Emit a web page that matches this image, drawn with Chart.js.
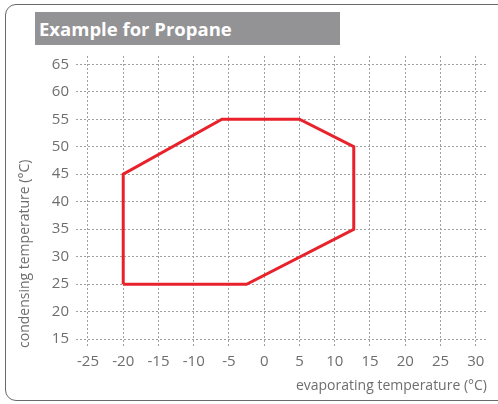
<!DOCTYPE html>
<html>
<head>
<meta charset="utf-8">
<script src="https://cdn.jsdelivr.net/npm/chart.js@4/dist/chart.umd.min.js"></script>
<style>
  html, body { margin: 0; padding: 0; background: #fff; width: 498px; height: 404px; overflow: hidden; }
  #frame { position: absolute; left: 5px; top: 4px; width: 540px; height: 397px; border: 1.5px solid #6a6a6a; border-radius: 11px; box-sizing: border-box; }
  #titlebar { position: absolute; left: 35px; top: 12px; width: 305px; height: 33px; background: #939396; color: #fff;
    font-family: "Open Sans", sans-serif; font-weight: bold; font-size: 18.5px; line-height: 33px; padding-left: 4px; box-sizing: border-box; }
  #c { position: absolute; left: 0; top: 0; }
</style>
</head>
<body>
<div id="frame"></div>
<div id="titlebar">Example for Propane</div>
<canvas id="c" width="498" height="404"></canvas>
<script>
// Envelope (evaporating temperature °C, condensing temperature °C)
const evaporating = [-20, -2.5, 12.7, 12.7, 5, -6, -20, -20];
const condensing  = [ 25,   25,   35,   50, 55, 55, 45, 25];
const xTickValues = [-25, -20, -15, -10, -5, 0, 5, 10, 15, 20, 25, 30];
const yTickValues = [15, 20, 25, 30, 35, 40, 45, 50, 55, 60, 65];
const titleText = "Example for Propane";
const xTitle = "evaporating temperature (°C)";
const yTitle = "condensing temperature (°C)";

const points = evaporating.map((x, i) => ({ x: x, y: condensing[i] }));
const tickFont = { family: "'Open Sans', sans-serif", size: 15 };
const gridOpts = { color: '#a0a0a0', lineWidth: 1, drawTicks: false };
const borderOpts = { display: false, dash: [2, 2] };

new Chart(document.getElementById('c'), {
  type: 'scatter',
  data: {
    datasets: [{
      data: points,
      showLine: true,
      borderColor: '#e8212b',
      borderWidth: 3,
      pointRadius: 0,
      fill: false,
      tension: 0
    }]
  },
  options: {
    responsive: false,
    devicePixelRatio: 1,
    animation: false,
    layout: { padding: { left: 0, right: 11, top: 56, bottom: 0 } },
    plugins: { legend: { display: false }, tooltip: { enabled: false } },
    scales: {
      x: {
        type: 'linear',
        min: -26.7, max: 31.6,
        grid: gridOpts,
        border: borderOpts,
        afterBuildTicks: s => { s.ticks = xTickValues.map(v => ({ value: v })); },
        afterFit: s => { s.height = 56; },
        ticks: { font: tickFont, color: '#6e6e6e', padding: 5 },
        title: { display: true, text: xTitle, align: 'end', color: '#6e6e6e',
                 font: { family: "'Open Sans', sans-serif", size: 14 }, padding: { top: 0, bottom: 10 } }
      },
      y: {
        type: 'linear',
        min: 13.4, max: 66.5,
        grid: gridOpts,
        border: borderOpts,
        afterBuildTicks: s => { s.ticks = yTickValues.map(v => ({ value: v })); },
        afterFit: s => { s.width = 76; },
        ticks: { font: tickFont, color: '#6e6e6e', padding: 7 },
        title: { display: true, text: yTitle, align: 'start', color: '#6e6e6e',
                 font: { family: "'Open Sans', sans-serif", size: 14 }, padding: { top: 17, bottom: 0 } }
      }
    }
  }
});
</script>
</body>
</html>
